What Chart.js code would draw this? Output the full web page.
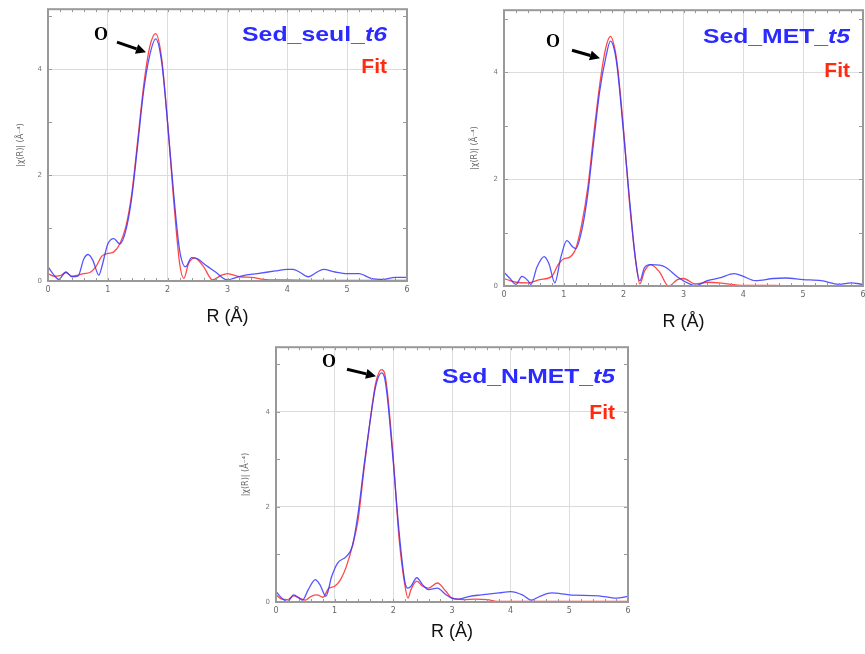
<!DOCTYPE html>
<html>
<head>
<meta charset="utf-8">
<script src="https://cdn.jsdelivr.net/npm/chart.js@4.4.0/dist/chart.umd.min.js"></script>
<style>
html, body { margin: 0; padding: 0; background: #fff; overflow: hidden; width: 865px; height: 654px; }
.panel { position: absolute; }
</style>
</head>
<body>
<div class="panel" id="p1"><canvas id="c1"></canvas></div>
<div class="panel" id="p2"><canvas id="c2"></canvas></div>
<div class="panel" id="p3"><canvas id="c3"></canvas></div>
<script>
// Sed_seul_t6 : data (blue) and fit (red)
const seulDataR = [0,0.1,0.18,0.3,0.4,0.5,0.6,0.67,0.75,0.85,0.9,1.0,1.1,1.2,1.3,1.4,1.5,1.6,1.7,1.8,1.9,2.0,2.1,2.2,2.3,2.4,2.5,2.6,2.8,3.0,3.1,3.3,3.5,3.8,4.0,4.1,4.2,4.35,4.5,4.6,4.8,5.0,5.2,5.4,5.6,5.8,6.0];
const seulData  = [0.27,0.11,0.03,0.17,0.08,0.09,0.42,0.5,0.39,0.11,0.27,0.7,0.8,0.7,0.95,1.58,2.58,3.6,4.26,4.57,4.13,2.97,1.65,0.58,0.27,0.44,0.42,0.33,0.17,0.02,0.05,0.11,0.14,0.19,0.22,0.22,0.17,0.08,0.17,0.22,0.17,0.14,0.14,0.05,0.03,0.07,0.07];
const seulFitR  = [0,0.1,0.2,0.3,0.4,0.5,0.6,0.7,0.8,0.9,1.0,1.1,1.2,1.3,1.4,1.5,1.6,1.7,1.8,1.9,2.0,2.1,2.2,2.27,2.35,2.45,2.6,2.75,2.9,3.0,3.2,3.4,3.6,3.8,4.0,4.5,5.0,5.5,6.0];
const seulFit   = [0.14,0.09,0.1,0.16,0.09,0.11,0.14,0.16,0.27,0.47,0.52,0.55,0.7,1.02,1.65,2.66,3.7,4.42,4.67,4.2,2.97,1.53,0.33,0.05,0.33,0.43,0.27,0.02,0.11,0.14,0.08,0.07,0.03,0.02,0.02,0.01,0.01,0.01,0.01];

// Sed_MET_t5
const metDataR = [0,0.1,0.2,0.3,0.4,0.45,0.55,0.67,0.75,0.85,0.95,1.05,1.15,1.2,1.3,1.4,1.5,1.6,1.7,1.78,1.85,1.9,2.0,2.1,2.2,2.27,2.35,2.45,2.6,2.7,2.9,3.1,3.2,3.4,3.6,3.85,4.0,4.2,4.5,4.7,5.0,5.3,5.6,5.8,6.0];
const metData  = [0.26,0.14,0.03,0.18,0.1,0.03,0.35,0.55,0.42,0.06,0.54,0.85,0.73,0.7,1.04,1.72,2.71,3.65,4.27,4.58,4.39,4.02,2.84,1.6,0.48,0.1,0.35,0.4,0.39,0.35,0.17,0.04,0.01,0.1,0.15,0.23,0.18,0.1,0.14,0.15,0.12,0.1,0.03,0.06,0.03];
const metFitR  = [0,0.1,0.2,0.4,0.6,0.8,0.9,1.0,1.1,1.2,1.3,1.4,1.5,1.6,1.7,1.78,1.85,1.9,2.0,2.1,2.2,2.27,2.35,2.45,2.6,2.75,2.9,3.0,3.2,3.4,3.6,4.0,4.5,5.0,5.5,6.0];
const metFit   = [0.14,0.1,0.07,0.06,0.12,0.18,0.39,0.51,0.54,0.7,1.16,1.84,2.84,3.77,4.45,4.67,4.45,4.08,2.9,1.53,0.48,0.04,0.28,0.4,0.26,0.0,0.12,0.14,0.04,0.07,0.06,0.01,0.01,0.0,0.0,0.0];

// Sed_N-MET_t5
const nmetDataR = [0,0.1,0.2,0.3,0.4,0.45,0.55,0.67,0.75,0.85,0.95,1.05,1.2,1.3,1.4,1.5,1.6,1.7,1.8,1.85,1.9,2.0,2.1,2.2,2.25,2.3,2.4,2.5,2.6,2.75,2.9,3.0,3.1,3.3,3.5,3.8,4.0,4.2,4.35,4.5,4.7,5.0,5.5,5.8,6.0];
const nmetData  = [0.22,0.08,0.01,0.15,0.08,0.04,0.26,0.47,0.36,0.12,0.54,0.82,0.96,1.17,1.87,2.86,3.77,4.54,4.82,4.72,4.29,2.93,1.45,0.4,0.29,0.33,0.51,0.36,0.26,0.29,0.15,0.08,0.06,0.12,0.15,0.19,0.22,0.15,0.04,0.12,0.19,0.15,0.13,0.08,0.12];
const nmetFitR  = [0,0.1,0.2,0.3,0.4,0.5,0.6,0.7,0.8,0.9,1.0,1.1,1.2,1.3,1.4,1.5,1.6,1.7,1.8,1.85,1.9,2.0,2.1,2.2,2.25,2.3,2.4,2.5,2.6,2.75,2.9,3.0,3.2,3.4,3.6,3.8,4.0,5.0,6.0];
const nmetFit   = [0.15,0.06,0.05,0.13,0.08,0.04,0.12,0.15,0.1,0.29,0.33,0.47,0.75,1.17,1.73,2.79,3.77,4.61,4.89,4.82,4.4,3.0,1.31,0.33,0.08,0.26,0.44,0.33,0.29,0.4,0.22,0.08,0.05,0.06,0.05,0.01,0.01,0.01,0.01];

const xTicks = ['0','1','2','3','4','5','6'];
const yTicks = ['0','2','4'];

const blue = 'rgba(55,55,255,0.85)';
const red = 'rgba(255,40,40,0.85)';

// plot-area boxes in page pixels, plus label placement relative to the plot area
const panels = [
    { canvas: 'c1', div: 'p1', left: 48, top: 9, right: 407, bottom: 281, yMax: 5.13,
      dataR: seulDataR, data: seulData, fitR: seulFitR, fit: seulFit,
      name: ['Sed_seul_', 't6'], nameW: 145, nameRight: 20, nameDy: 26, fitDy: 58,
      o: [53, 26], arrow: [69, 33, 98, 43], xTitlePad: 5, yTitlePad: 18 },
    { canvas: 'c2', div: 'p2', left: 504, top: 10, right: 863, bottom: 286, yMax: 5.16,
      dataR: metDataR, data: metData, fitR: metFitR, fit: metFit,
      name: ['Sed_MET_', 't5'], nameW: 147, nameRight: 13, nameDy: 27, fitDy: 61,
      o: [49, 32], arrow: [68, 40, 96, 48], xTitlePad: 5, yTitlePad: 16 },
    { canvas: 'c3', div: 'p3', left: 276, top: 347, right: 628, bottom: 602, yMax: 5.36,
      dataR: nmetDataR, data: nmetData, fitR: nmetFitR, fit: nmetFit,
      name: ['Sed_N-MET_', 't5'], nameW: 173, nameRight: 13, nameDy: 30, fitDy: 66,
      o: [53, 15], arrow: [71, 22, 100, 29], xTitlePad: 11, yTitlePad: 15 }
];

const toPoints = (xs, ys) => xs.map((x, i) => ({ x: x, y: ys[i] }));

function drawArrow(ctx, x1, y1, x2, y2) {
    const ang = Math.atan2(y2 - y1, x2 - x1);
    const head = 10;
    ctx.strokeStyle = '#000';
    ctx.fillStyle = '#000';
    ctx.lineWidth = 3;
    ctx.beginPath();
    ctx.moveTo(x1, y1);
    ctx.lineTo(x2 - head * Math.cos(ang), y2 - head * Math.sin(ang));
    ctx.stroke();
    ctx.beginPath();
    ctx.moveTo(x2, y2);
    ctx.lineTo(x2 - head * Math.cos(ang) + 5 * Math.sin(ang), y2 - head * Math.sin(ang) - 5 * Math.cos(ang));
    ctx.lineTo(x2 - head * Math.cos(ang) - 5 * Math.sin(ang), y2 - head * Math.sin(ang) + 5 * Math.cos(ang));
    ctx.closePath();
    ctx.fill();
}

// frame, inner minor ticks, labels and arrow
const decorPlugin = {
    id: 'decor',
    afterDraw(chart) {
        const p = chart.options.plugins.decor;
        const { ctx, chartArea: a, scales } = chart;
        ctx.save();
        ctx.strokeStyle = '#9a9a9a';
        ctx.lineWidth = 1;
        for (let i = 1; i < 30; i++) {
            const x = Math.round(scales.x.getPixelForValue(i * 0.2)) + 0.5;
            ctx.beginPath();
            ctx.moveTo(x, a.top); ctx.lineTo(x, a.top + 3);
            ctx.moveTo(x, a.bottom); ctx.lineTo(x, a.bottom - 3);
            ctx.stroke();
        }
        for (let v = 1; v <= 5; v++) {
            const y = Math.round(scales.y.getPixelForValue(v)) + 0.5;
            if (y < a.top + 2) continue;
            ctx.beginPath();
            ctx.moveTo(a.left, y); ctx.lineTo(a.left + 4, y);
            ctx.moveTo(a.right, y); ctx.lineTo(a.right - 4, y);
            ctx.stroke();
        }
        ctx.lineWidth = 2;
        ctx.strokeStyle = '#999';
        ctx.strokeRect(a.left, a.top, a.right - a.left, a.bottom - a.top);

        // series names
        ctx.textBaseline = 'middle';
        ctx.textAlign = 'left';
        const f1 = 'bold 21px "Liberation Sans", Arial, sans-serif';
        const f2 = 'italic bold 21px "Liberation Sans", Arial, sans-serif';
        ctx.font = f1;
        const w1 = ctx.measureText(p.name[0]).width;
        ctx.font = f2;
        const w2 = ctx.measureText(p.name[1]).width;
        const sx = p.nameW / (w1 + w2);
        ctx.save();
        ctx.translate(a.right - p.nameRight - p.nameW, a.top + p.nameDy);
        ctx.scale(sx, 1);
        ctx.fillStyle = '#2b2bff';
        ctx.font = f1;
        ctx.fillText(p.name[0], 0, 0);
        ctx.font = f2;
        ctx.fillText(p.name[1], w1, 0);
        ctx.restore();

        ctx.font = f1;
        ctx.textAlign = 'right';
        ctx.fillStyle = '#ff2a10';
        ctx.fillText('Fit', a.right - p.nameRight, a.top + p.fitDy);

        ctx.textAlign = 'center';
        ctx.fillStyle = '#000';
        ctx.font = 'bold 18px "Liberation Serif", "Times New Roman", serif';
        ctx.fillText('O', a.left + p.o[0], a.top + p.o[1]);
        drawArrow(ctx, a.left + p.arrow[0], a.top + p.arrow[1], a.left + p.arrow[2], a.top + p.arrow[3]);
        ctx.restore();
    }
};

panels.forEach(p => {
    const w = (p.right - p.left) + 50 + 12;
    const h = (p.bottom - p.top) + 10 + 52;
    const div = document.getElementById(p.div);
    div.style.left = (p.left - 50) + 'px';
    div.style.top = (p.top - 10) + 'px';
    const cv = document.getElementById(p.canvas);
    cv.width = w;
    cv.height = h;

    new Chart(cv, {
        type: 'line',
        data: {
            datasets: [
                { label: 'data', data: toPoints(p.dataR, p.data), borderColor: blue, borderWidth: 1.3,
                  pointRadius: 0, cubicInterpolationMode: 'monotone', fill: false },
                { label: 'fit', data: toPoints(p.fitR, p.fit), borderColor: red, borderWidth: 1.3,
                  pointRadius: 0, cubicInterpolationMode: 'monotone', fill: false }
            ]
        },
        options: {
            responsive: false,
            animation: false,
            layout: { padding: { left: 0, top: 10, right: 12, bottom: 0 } },
            plugins: {
                legend: { display: false },
                tooltip: { enabled: false },
                decor: p
            },
            scales: {
                x: {
                    type: 'linear', min: 0, max: 6,
                    afterFit: s => { s.height = 52; },
                    border: { display: false },
                    grid: {
                        drawTicks: false,
                        color: c => (c.tick.value > 0 && c.tick.value < 6) ? '#dcdcdc' : 'rgba(0,0,0,0)'
                    },
                    ticks: {
                        stepSize: 1, padding: 4, color: '#666', maxRotation: 0,
                        font: { size: 8, family: 'DejaVu Sans' },
                        callback: v => xTicks[v] !== undefined && Number.isInteger(v) ? xTicks[v] : ''
                    },
                    title: {
                        display: true, text: 'R (Å)', color: '#111',
                        font: { size: 18, family: 'Liberation Sans' },
                        padding: { top: 0, bottom: p.xTitlePad }
                    }
                },
                y: {
                    type: 'linear', min: 0, max: p.yMax,
                    afterFit: s => { s.width = 50; },
                    border: { display: false },
                    grid: {
                        drawTicks: false,
                        color: c => (c.tick.value === 2 || c.tick.value === 4) ? '#dcdcdc' : 'rgba(0,0,0,0)'
                    },
                    ticks: {
                        stepSize: 1, padding: 6, color: '#777',
                        font: { size: 7, family: 'DejaVu Sans' },
                        callback: v => yTicks.includes(String(v)) ? String(v) : ''
                    },
                    title: {
                        display: true, text: '|χ(R)| (Å⁻⁴)', color: '#666',
                        font: { size: 8, family: 'DejaVu Sans' },
                        padding: { top: p.yTitlePad, bottom: 0 }
                    }
                }
            }
        },
        plugins: [decorPlugin]
    });
});
</script>
</body>
</html>
